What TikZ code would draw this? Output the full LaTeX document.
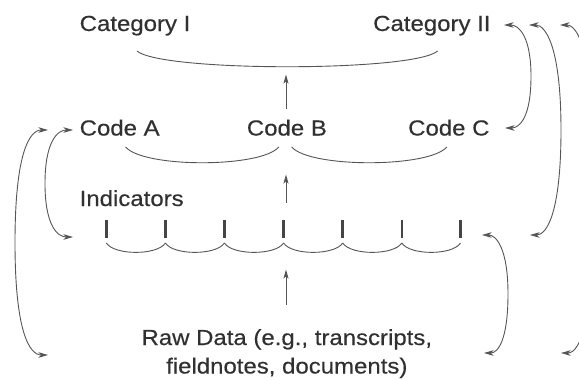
\documentclass[tikz,border=0pt]{standalone}
\usepackage{fontspec}
\setmainfont{Liberation Sans}[FakeStretch=1.1,FakeBold=0.35]
\usetikzlibrary{arrows.meta}

\definecolor{ink}{HTML}{303030}
\definecolor{wire}{HTML}{555555}

\begin{document}
\begin{tikzpicture}[x=1pt,y=-1pt,
  lbl/.style={inner sep=0pt, anchor=base west, text=ink,
              font=\fontsize{21.8}{26}\selectfont},
  brace/.style={draw=wire, line width=0.9pt},
  tickmark/.style={draw=ink!90, line width=2.6pt},
  flow/.style={draw=wire, line width=0.9pt,
               -{Stealth[length=9pt,width=5pt,inset=2pt]}},
  loopback/.style={draw=wire, line width=0.9pt,
               {Stealth[length=9.5pt,width=5.5pt,inset=2.5pt]}-{Stealth[length=9.5pt,width=5.5pt,inset=2.5pt]}},
]
\useasboundingbox (0,0) rectangle (579,380);
\clip (0,0) rectangle (579,380);

% ---------- labels ----------
\node[lbl] (cat1)  at (79.5,31)  {Category I};
\node[lbl] (cat2)  at (373,31)   {Category II};
\node[lbl] (codeA) at (79.5,135.5) {Code A};
\node[lbl] (codeB) at (246.7,135.5) {Code B};
\node[lbl] (codeC) at (408,135.5)  {Code C};
\node[lbl] (ind)   at (79.5,206) {Indicators};
\node[lbl, anchor=base] (raw1) at (286.8,345)   {Raw Data (e.g., transcripts,};
\node[lbl, anchor=base] (raw2) at (286.8,373.5) {fieldnotes, documents)};

% ---------- indicator marks and their small braces ----------
\foreach \i/\x in {1/106.4,2/165.4,3/224.4,4/283.6,5/342.7,6/401.8,7/460.5} {
  \coordinate (t\i) at (\x,243);
  \draw[tickmark] (\x,220) -- (\x,238);
}
\foreach \a/\b in {1/2,2/3,3/4,4/5,5/6,6/7}
  \draw[brace] (t\a) .. controls +(8,12.5) and +(-8,12.5) .. (t\b);

% ---------- braces grouping codes and categories ----------
\coordinate (catL) at (137,51);
\coordinate (catR) at (437.6,51);
\draw[brace] (catL) .. controls +(24,21) and +(-24,21) .. (catR);

\coordinate (abL) at (125.6,147);
\coordinate (abR) at (278.8,147);
\coordinate (bcL) at (291.7,147);
\coordinate (bcR) at (446.8,147);
\draw[brace] (abL) .. controls +(18,21) and +(-18,21) .. (abR);
\draw[brace] (bcL) .. controls +(18,21) and +(-18,21) .. (bcR);

% ---------- upward arrows in the middle ----------
\coordinate (upA1) at (286,109);
\coordinate (upA2) at (286,74.5);
\coordinate (upB1) at (286,203);
\coordinate (upB2) at (286,174.5);
\coordinate (upC1) at (286,305);
\coordinate (upC2) at (286,269.5);
\draw[flow] (upA1) -- (upA2);
\draw[flow] (upB1) -- (upB2);
\draw[flow] (upC1) -- (upC2);

% ---------- feedback loops on the right ----------
\coordinate (r1a) at (504,25);  \coordinate (r1b) at (505,128);
\coordinate (r2a) at (529,25);  \coordinate (r2b) at (530,235);
\coordinate (r3a) at (560,25);  \coordinate (r3b) at (561,353);
\coordinate (r4a) at (482,235); \coordinate (r4b) at (484,353);
\draw[loopback] (r1a) .. controls +(15,0) and +(0,-40) .. (531,76.5)
                      .. controls +(0,40) and +(15,0) .. (r1b);
\draw[loopback] (r2a) .. controls +(17,0) and +(0,-82) .. (561,130)
                      .. controls +(0,82) and +(17,0) .. (r2b);
\draw[loopback] (r3a) .. controls +(20,0) and +(0,-130) .. (594,189)
                      .. controls +(0,130) and +(20,0) .. (r3b);
\draw[loopback] (r4a) .. controls +(14,0) and +(0,-46) .. (508,294)
                      .. controls +(0,46) and +(14,0) .. (r4b);

% ---------- feedback loops on the left ----------
\coordinate (l1a) at (73,130); \coordinate (l1b) at (73,237);
\coordinate (l2a) at (48,130); \coordinate (l2b) at (48,355);
\draw[loopback] (l1a) .. controls +(-16,0) and +(0,-41) .. (45,183.5)
                      .. controls +(0,41) and +(-16,0) .. (l1b);
\draw[loopback] (l2a) .. controls +(-19,0) and +(0,-88) .. (15,242.5)
                      .. controls +(0,88) and +(-19,0) .. (l2b);
\end{tikzpicture}
\end{document}
